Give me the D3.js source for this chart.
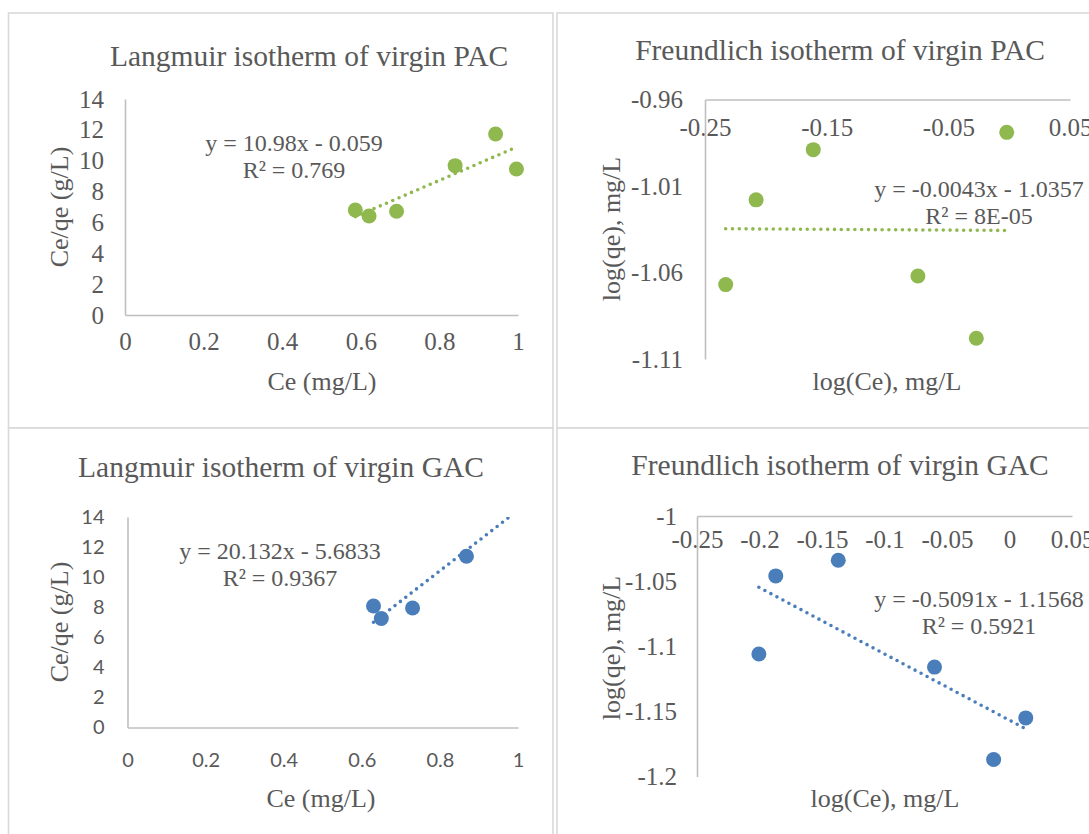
<!DOCTYPE html>
<html>
<head>
<meta charset="utf-8">
<script src="https://cdn.jsdelivr.net/npm/d3@7"></script>
<style>
  body { margin: 0; background: #fff; }
  svg { display: block; }
</style>
</head>
<body>
<svg id="chart" width="1089" height="834"></svg>
<script>
// values
var pacCe     = [0.586, 0.621, 0.691, 0.840, 0.943, 0.996];
var pacCeQe   = [6.81, 6.42, 6.72, 9.68, 11.73, 9.46];
var pacLogCe  = [-0.233, -0.208, -0.161, -0.075, -0.027, -0.002];
var pacLogQe  = [-1.067, -1.018, -0.989, -1.062, -1.098, -0.979];

// two GAC Langmuir points sit above 14 and are cut off by the plot area
var gacCe     = [0.630, 0.650, 0.730, 0.868, 0.971, 1.030];
var gacCeQe   = [8.08, 7.25, 7.95, 11.39, 14.9, 14.7];
var gacLogCe  = [-0.2005, -0.187, -0.137, -0.060, -0.0127, 0.013];
var gacLogQe  = [-1.106, -1.046, -1.034, -1.116, -1.187, -1.155];

// trendline coefficients and labels, as printed on the charts
var slopes     = [10.98, -0.0043, 20.132, -0.5091];
var intercepts = [-0.059, -1.0357, -5.6833, -1.1568];
var eqLabels   = ["y = 10.98x - 0.059", "y = -0.0043x - 1.0357", "y = 20.132x - 5.6833", "y = -0.5091x - 1.1568"];
var r2Labels   = ["R² = 0.769", "R² = 8E-05", "R² = 0.9367", "R² = 0.5921"];

// tick values
var langTicksX  = [0, 0.2, 0.4, 0.6, 0.8, 1];
var langTicksY  = [0, 2, 4, 6, 8, 10, 12, 14];
var freuPacX    = [-0.25, -0.15, -0.05, 0.05];
var freuPacY    = [-0.96, -1.01, -1.06, -1.11];
var freuGacX    = [-0.25, -0.2, -0.15, -0.1, -0.05, 0, 0.05];
var freuGacY    = [-1, -1.05, -1.1, -1.15, -1.2];

var green = "#8fb84f",
    blue = "#4a7ebb",
    ink = "#595959",
    serif = "'Liberation Serif', 'Times New Roman', serif",
    sans = "Lato, Carlito, Calibri, sans-serif";

var panels = [
  { title: "Langmuir isotherm of virgin PAC", xs: pacCe, ys: pacCeQe, color: green,
    xDomain: [0, 1], yDomain: [0, 14], xTicks: langTicksX, yTicks: langTicksY,
    xTitle: "Ce (mg/L)", yTitle: "Ce/qe (g/L)",
    box: [8.5, 13, 553, 428], plot: { l: 125, r: 518, t: 99, b: 315 }, axisTop: false,
    tickFont: serif, tickSize: 25, yPad: 21, xLabelDy: 35,
    titlePos: [309, 66], xTitlePos: [322, 390], yTitlePos: [68, 207],
    eqPos: [294, 151] },
  { title: "Freundlich isotherm of virgin PAC", xs: pacLogCe, ys: pacLogQe, color: green,
    xDomain: [-0.25, 0.05], yDomain: [-1.11, -0.96], xTicks: freuPacX, yTicks: freuPacY,
    xTitle: "log(Ce), mg/L", yTitle: "log(qe), mg/L",
    box: [557, 13, 1100, 428], plot: { l: 705, r: 1070, t: 99.5, b: 359 }, axisTop: true,
    tickFont: serif, tickSize: 25, yPad: 22, xLabelDy: 36,
    titlePos: [840, 60], xTitlePos: [887, 390], yTitlePos: [620, 229],
    eqPos: [979, 197] },
  { title: "Langmuir isotherm of virgin GAC", xs: gacCe, ys: gacCeQe, color: blue,
    xDomain: [0, 1], yDomain: [0, 14], xTicks: langTicksX, yTicks: langTicksY,
    xTitle: "Ce (mg/L)", yTitle: "Ce/qe (g/L)",
    box: [8.5, 428, 553, 850], plot: { l: 127.5, r: 518, t: 517, b: 727.5 }, axisTop: false,
    tickFont: sans, tickSize: 20, yPad: 23, xLabelDy: 39,
    titlePos: [281, 477], xTitlePos: [321, 807], yTitlePos: [68, 622],
    eqPos: [280, 559] },
  { title: "Freundlich isotherm of virgin GAC", xs: gacLogCe, ys: gacLogQe, color: blue,
    xDomain: [-0.25, 0.05], yDomain: [-1.2, -1], xTicks: freuGacX, yTicks: freuGacY,
    xTitle: "log(Ce), mg/L", yTitle: "log(qe), mg/L",
    box: [557, 428, 1100, 850], plot: { l: 697, r: 1072, t: 516, b: 776.5 }, axisTop: true,
    tickFont: serif, tickSize: 25, yPad: 20, xLabelDy: 32,
    titlePos: [840, 475], xTitlePos: [885, 807], yTitlePos: [620, 648],
    eqPos: [979, 607] }
];

var svg = d3.select("#chart");

function drawPanel(p, i) {
  var g = svg.append("g").attr("class", "panel");

  // frame around each chart
  g.append("rect")
      .attr("x", p.box[0]).attr("y", p.box[1])
      .attr("width", p.box[2] - p.box[0]).attr("height", p.box[3] - p.box[1])
      .attr("fill", "#fff")
      .attr("stroke", "#d9d9d9")
      .attr("stroke-width", 1.6);

  var x = d3.scaleLinear().domain(p.xDomain).range([p.plot.l, p.plot.r]),
      y = d3.scaleLinear().domain(p.yDomain).range([p.plot.b, p.plot.t]);

  var xAxis = d3.axisBottom(x).tickValues(p.xTicks).tickFormat(d => String(d))
      .tickSize(0).tickSizeOuter(0);
  var yAxis = d3.axisLeft(y).tickValues(p.yTicks).tickFormat(d => String(d))
      .tickSize(0).tickSizeOuter(0).tickPadding(p.yPad);

  var xg = g.append("g")
      .attr("transform", "translate(0," + (p.axisTop ? p.plot.t : p.plot.b) + ")")
      .call(xAxis);
  xg.selectAll("text").attr("y", p.xLabelDy).attr("dy", null);

  var yg = g.append("g")
      .attr("transform", "translate(" + p.plot.l + ",0)")
      .call(yAxis);

  [xg, yg].forEach(function(a) {
    a.select(".domain").attr("stroke", "#bfbfbf").attr("stroke-width", 1.6);
    a.selectAll("text")
        .attr("fill", ink)
        .style("font-family", p.tickFont)
        .style("font-size", p.tickSize + "px");
  });

  // titles
  g.append("text")
      .attr("x", p.titlePos[0]).attr("y", p.titlePos[1])
      .attr("text-anchor", "middle")
      .attr("fill", ink)
      .style("font-family", serif).style("font-size", "29.5px")
      .text(p.title);

  g.append("text")
      .attr("x", p.xTitlePos[0]).attr("y", p.xTitlePos[1])
      .attr("text-anchor", "middle")
      .attr("fill", ink)
      .style("font-family", serif).style("font-size", "26px")
      .text(p.xTitle);

  g.append("text")
      .attr("transform", "translate(" + p.yTitlePos[0] + "," + p.yTitlePos[1] + ") rotate(-90)")
      .attr("text-anchor", "middle")
      .attr("fill", ink)
      .style("font-family", serif).style("font-size", "26px")
      .text(p.yTitle);

  // linear trendline over the data range, clipped to the plot area
  var clipId = "clip" + i;
  g.append("clipPath").attr("id", clipId)
    .append("rect")
      .attr("x", p.plot.l).attr("y", p.plot.t)
      .attr("width", p.plot.r - p.plot.l).attr("height", p.plot.b - p.plot.t);

  var ext = d3.extent(p.xs);
  var fit = ext.map(v => [v, slopes[i] * v + intercepts[i]]);

  var pts = p.xs.map((v, k) => [v, p.ys[k]])
      .filter(d => d[1] >= p.yDomain[0] && d[1] <= p.yDomain[1] &&
                   d[0] >= p.xDomain[0] && d[0] <= p.xDomain[1]);

  g.selectAll("circle.pt")
      .data(pts)
    .enter().append("circle")
      .attr("class", "pt")
      .attr("cx", d => x(d[0]))
      .attr("cy", d => y(d[1]))
      .attr("r", 7.5)
      .attr("fill", p.color);

  g.append("path")
      .datum(fit)
      .attr("clip-path", "url(#" + clipId + ")")
      .attr("d", d3.line().x(d => x(d[0])).y(d => y(d[1])))
      .attr("fill", "none")
      .attr("stroke", p.color)
      .attr("stroke-width", 3.6)
      .attr("stroke-linecap", "round")
      .attr("stroke-dasharray", "0 6.8");

  // equation label
  var eq = g.append("text")
      .attr("text-anchor", "middle")
      .attr("fill", ink)
      .style("font-family", serif).style("font-size", "24px");
  eq.append("tspan").attr("x", p.eqPos[0]).attr("y", p.eqPos[1]).text(eqLabels[i]);
  eq.append("tspan").attr("x", p.eqPos[0]).attr("y", p.eqPos[1] + 27).text(r2Labels[i]);
}

panels.forEach(drawPanel);
</script>
</body>
</html>
